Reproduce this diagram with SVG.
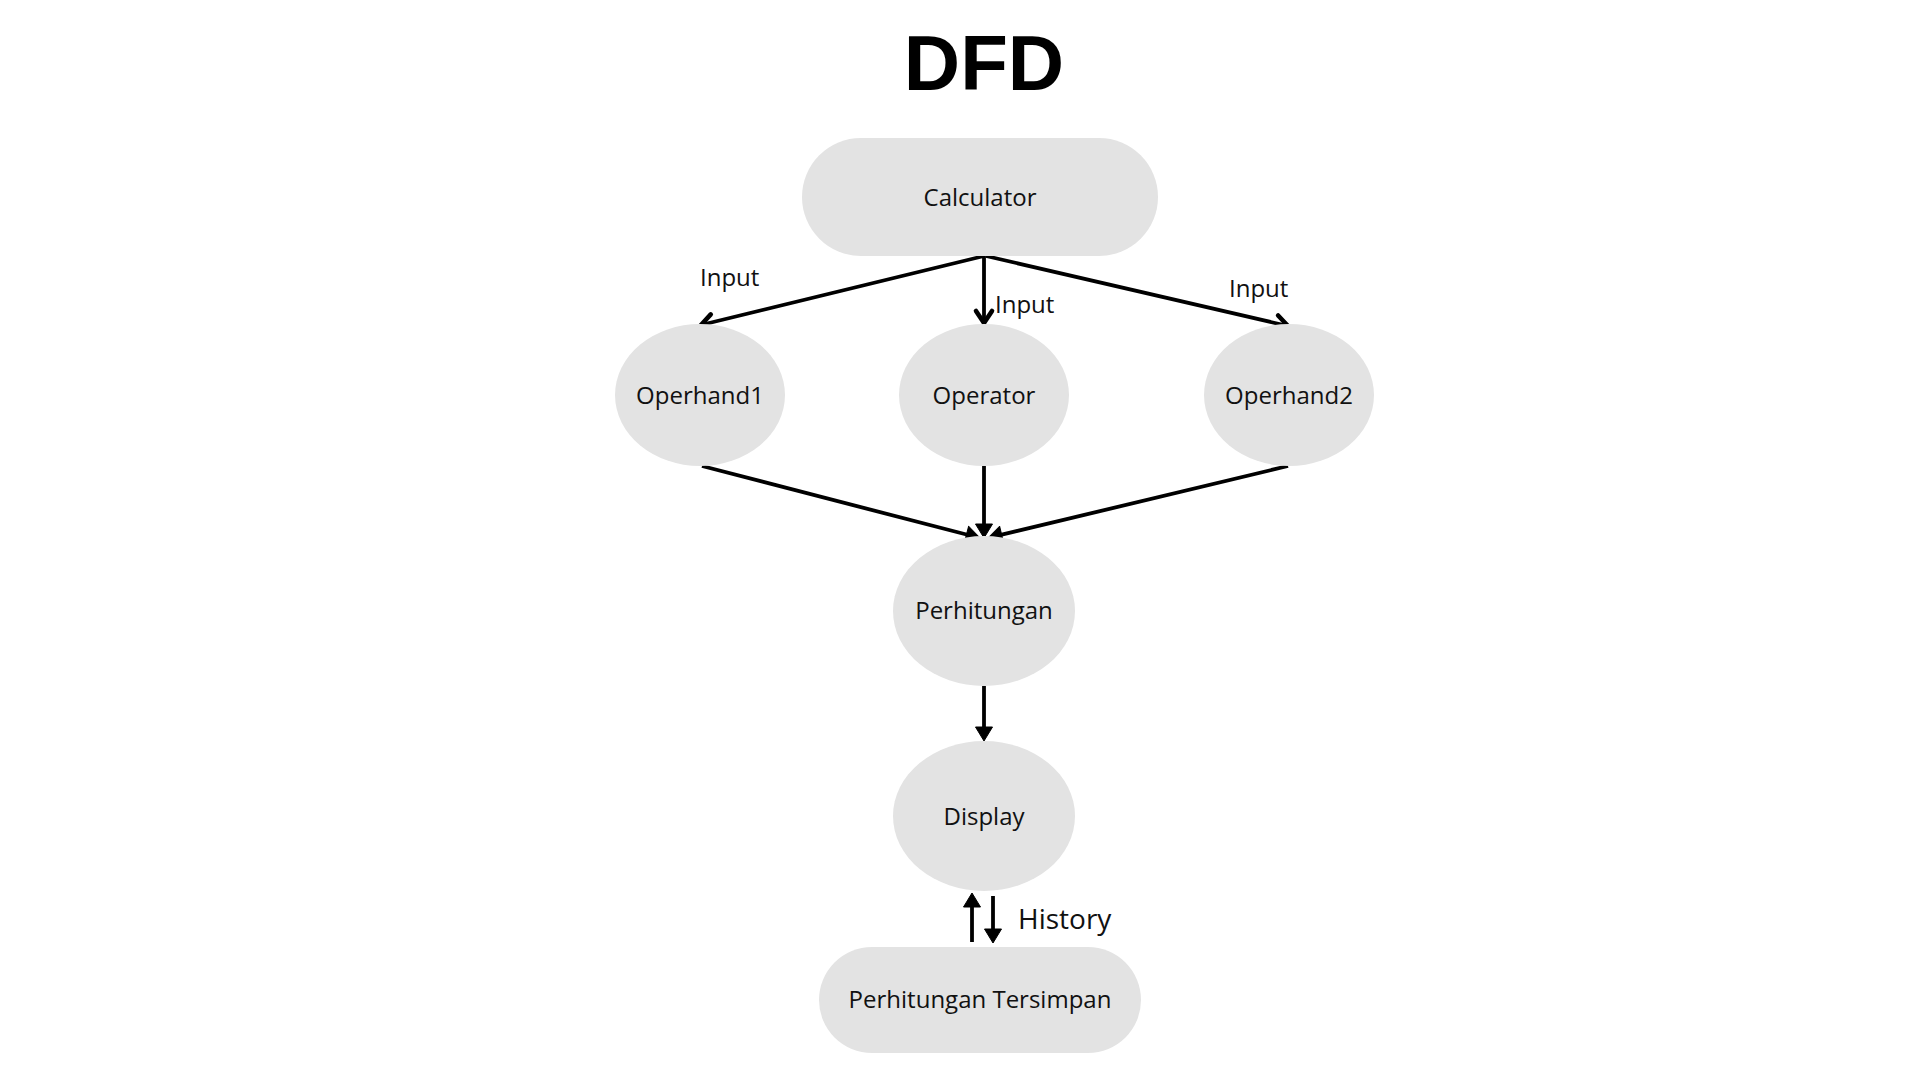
<svg xmlns="http://www.w3.org/2000/svg" width="1920" height="1080" viewBox="0 0 1920 1080">
<style>
.node{fill:#e3e3e3}
.lbl{font-family:"Open Sans","Liberation Sans",sans-serif;font-size:24px;fill:#111;text-anchor:middle}
.edge{stroke:#000;stroke-width:3.8;fill:none}
.elbl{font-family:"Open Sans","Liberation Sans",sans-serif;font-size:24px;fill:#111}
</style>
<defs>
<marker id="open" markerUnits="userSpaceOnUse" markerWidth="24" markerHeight="24" refX="14" refY="9" orient="auto" overflow="visible"><path d="M2,1 L14,9 L2,17" fill="none" stroke="#000" stroke-width="4.6" stroke-linecap="round" stroke-linejoin="round"/></marker>
<marker id="fill" markerUnits="userSpaceOnUse" markerWidth="20" markerHeight="20" refX="2" refY="8.5" orient="auto" overflow="visible"><path d="M0,0 L14,8.5 L0,17 z" fill="#000" stroke="#000" stroke-width="1" stroke-linejoin="round"/></marker>
</defs>
<rect width="1920" height="1080" fill="#fff"/>
<text x="984" y="90" font-family="'Liberation Sans',Arial,sans-serif" font-weight="bold" font-size="78" text-anchor="middle" fill="#000">DFD</text>
<g id="edges">
<line class="edge" x1="984" y1="256" x2="701" y2="325" marker-end="url(#open)"/>
<line class="edge" x1="984" y1="256" x2="984" y2="323" marker-end="url(#open)"/>
<line class="edge" x1="986" y1="256" x2="1288" y2="326" marker-end="url(#open)"/>
<line class="edge" x1="702" y1="466" x2="968.4" y2="535" marker-end="url(#fill)"/>
<line class="edge" x1="984" y1="466" x2="984" y2="526" marker-end="url(#fill)"/>
<line class="edge" x1="1288" y1="466" x2="999.7" y2="535.2" marker-end="url(#fill)"/>
<line class="edge" x1="984" y1="686" x2="984" y2="729" marker-end="url(#fill)"/>
<line class="edge" x1="972" y1="942" x2="972" y2="905" marker-end="url(#fill)"/>
<line class="edge" x1="993" y1="896" x2="993" y2="931" marker-end="url(#fill)"/>
<text class="elbl" x="700" y="286">Input</text>
<text class="elbl" x="995" y="313">Input</text>
<text class="elbl" x="1229" y="297">Input</text>
<text class="elbl" x="1018" y="929" style="font-size:28px">History</text>
</g>
<g id="calculator"><rect class="node" x="802" y="138" width="356" height="118" rx="59"/><text class="lbl" x="980" y="206">Calculator</text></g>
<g id="operhand1"><ellipse class="node" cx="700" cy="395" rx="85" ry="71"/><text class="lbl" x="700" y="404">Operhand1</text></g>
<g id="operator"><ellipse class="node" cx="984" cy="395" rx="85" ry="71"/><text class="lbl" x="984" y="404">Operator</text></g>
<g id="operhand2"><ellipse class="node" cx="1289" cy="395" rx="85" ry="71"/><text class="lbl" x="1289" y="404">Operhand2</text></g>
<g id="perhitungan"><ellipse class="node" cx="984" cy="611" rx="91" ry="75"/><text class="lbl" x="984" y="619">Perhitungan</text></g>
<g id="display"><ellipse class="node" cx="984" cy="816" rx="91" ry="75"/><text class="lbl" x="984" y="825">Display</text></g>
<g id="tersimpan"><rect class="node" x="819" y="947" width="322" height="106" rx="53"/><text class="lbl" x="980" y="1008">Perhitungan Tersimpan</text></g>
</svg>
